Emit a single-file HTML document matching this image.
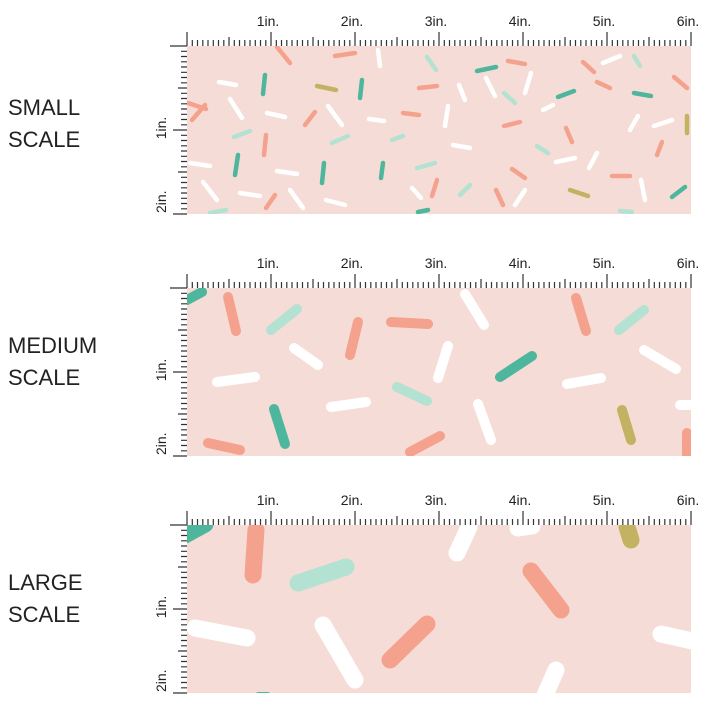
<!DOCTYPE html>
<html><head><meta charset="utf-8"><style>
html,body{margin:0;padding:0;background:#fff;}
svg{display:block;}
text{font-family:"Liberation Sans",sans-serif;fill:#222;}
</style></head><body>
<svg id="s" width="720" height="720" viewBox="0 0 720 720" xmlns="http://www.w3.org/2000/svg">
<text x="8" y="115" font-size="22">SMALL</text>
<text x="8" y="147" font-size="22">SCALE</text>
<text x="8" y="353" font-size="22">MEDIUM</text>
<text x="8" y="385" font-size="22">SCALE</text>
<text x="8" y="590" font-size="22">LARGE</text>
<text x="8" y="622" font-size="22">SCALE</text>
</svg>
<script>
var s=document.getElementById('s'),NS='http://www.w3.org/2000/svg';
function el(t,a,txt){var e=document.createElementNS(NS,t);for(var k in a)e.setAttribute(k,a[k]);if(txt)e.textContent=txt;s.appendChild(e);return e;}
var C={s:'#f4a28d',t:'#4db69d',m:'#b4e2d2',o:'#c2b262',w:'#ffffff'};
var panels=[
{y:46,w:4.5,sp:[
['s',277,47,290,63],['s',335,56,355,53],['w',219,82,236,85],['t',265,75,263,94],['o',317,86,336,90],['t',362,80,360,98],
['s',188,103,206,109],['s',205,105,192,120],['w',230,99,242,118],['w',267,113,285,117],['s',315,112,305,125],['w',328,106,342,125],
['m',234,137,250,131],['s',266,135,264,155],['m',332,143,348,136],['w',190,163,210,166],['t',238,155,235,175],['w',277,171,297,174],['t',324,163,322,183],
['w',203,182,217,200],['w',240,193,260,196],['s',275,195,266,208],['w',290,190,303,208],['w',326,200,345,205],
['w',378,50,380,66],['m',427,57,436,70],['s',419,88,437,86],['t',477,71,496,67],['s',508,61,525,64],['w',531,73,525,93],['w',603,63,620,56],['s',583,62,594,72],['m',634,56,640,66],
['w',459,85,465,100],['w',486,78,495,96],['m',504,93,515,103],['t',558,97,574,91],['s',597,82,610,88],['t',634,93,651,96],['s',674,77,687,88],
['w',448,106,445,126],['s',403,113,419,115],['w',369,119,384,121],['s',504,126,520,122],['w',543,110,553,105],['o',687,116,687,133],['s',566,128,572,142],['w',630,130,638,116],['w',654,126,672,120],
['m',392,140,403,136],['w',453,145,470,148],['m',537,146,548,153],['w',556,162,575,158],['w',589,168,597,153],['s',657,155,662,142],
['t',383,163,381,178],['m',417,168,435,163],['s',437,180,432,196],['w',412,188,421,198],['m',460,195,470,185],['s',512,169,525,178],['s',496,190,503,205],['w',515,205,525,190],
['o',570,190,588,196],['s',612,176,630,176],['w',641,180,645,200],['t',672,197,685,187],['m',620,211,632,212],['t',418,212,428,210],['m',210,213,226,210]]},
{y:288,w:10,sp:[
['t',187,300,202,292],['s',228,297,236,331],['m',271,330,297,309],['w',294,348,318,365],['s',350,355,358,322],['s',391,322,428,324],
['w',465,294,484,325],['w',438,378,448,346],['s',576,298,586,331],['m',619,330,644,310],['t',500,377,532,356],['w',644,350,676,369],
['w',217,382,255,377],['m',397,387,427,401],['w',331,407,366,402],['w',567,384,601,378],['t',274,409,285,444],['w',478,404,491,440],
['o',622,410,631,440],['s',208,443,240,450],['s',410,452,440,436],['w',680,405,692,405],['s',687,433,687,455]]},
{y:525,w:17,sp:[
['t',185,535,205,524],['s',256,530,253,575],['m',298,583,346,567],['w',457,553,469,527],['w',518,528,532,526],['s',531,571,561,610],
['o',627,527,631,540],['w',195,628,247,638],['w',323,625,355,680],['s',390,660,427,624],['w',661,634,692,641],['w',545,695,556,670]]}
];
panels.forEach(function(p,i){
 var y=p.y,h=168;
 var cp=el('clipPath',{id:'c'+i});var r=document.createElementNS(NS,'rect');
 r.setAttribute('x',187);r.setAttribute('y',y);r.setAttribute('width',504);r.setAttribute('height',h);cp.appendChild(r);
 el('rect',{x:187,y:y,width:504,height:h,fill:'#f6dcd6'});
 var g=el('g',{'clip-path':'url(#c'+i+')','stroke-linecap':'round'});
 p.sp.forEach(function(q){var l=document.createElementNS(NS,'line');l.setAttribute('x1',q[1]);l.setAttribute('y1',q[2]);l.setAttribute('x2',q[3]);l.setAttribute('y2',q[4]);l.setAttribute('stroke',C[q[0]]);l.setAttribute('stroke-width',p.w);g.appendChild(l);});
 if(i==2){var l=document.createElementNS(NS,'line');l.setAttribute('x1',258);l.setAttribute('y1',694);l.setAttribute('x2',268);l.setAttribute('y2',694);l.setAttribute('stroke',C.t);l.setAttribute('stroke-width',4);g.appendChild(l);}
 var d='';
 for(var k=0;k<=96;k++){var x=187+k*84/16;var L=k%16==0?14:(k%8==0?9:6);d+='M'+x.toFixed(1)+' '+y+'v'+(-L);}
 for(var k=1;k<=32;k++){var yy=y+k*84/16;if(yy>y+h)break;var L=k%16==0?14:(k%8==0?9:6);d+='M187 '+yy.toFixed(1)+'h'+(-L);}
 d+='M170 '+y+'H187';
 el('path',{d:d,stroke:'#333','stroke-width':1.2,fill:'none'});
 for(var n=1;n<=6;n++){el('text',{x:187+n*84-3,y:y-20,'font-size':14,'text-anchor':'middle'},n+'in.');}
 el('text',{transform:'translate(166,'+(y+82)+') rotate(-90)','font-size':14,'text-anchor':'middle'},'1in.');
 el('text',{transform:'translate(166,'+(y+167)+') rotate(-90)','font-size':14,'text-anchor':'start'},'2in.');
});
</script>
</body></html>
